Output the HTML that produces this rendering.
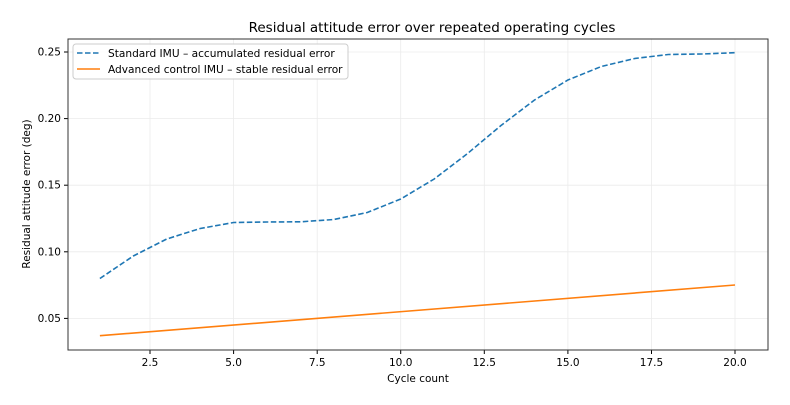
<!DOCTYPE html>
<html><head><meta charset="utf-8"><style>
html,body{margin:0;padding:0;background:#fff;}
svg{display:block;font-family:"DejaVu Sans","Liberation Sans",sans-serif;}
</style></head><body>
<svg width="790" height="405" viewBox="0 0 790 405" xmlns="http://www.w3.org/2000/svg">
<rect width="790" height="405" fill="#fff"/>
<text x="432" y="32" font-size="13.5" text-anchor="middle" fill="#000">Residual attitude error over repeated operating cycles</text>
<g stroke="#ebebeb" stroke-width="0.8">
<line x1="150" y1="39" x2="150" y2="350"/><line x1="233.6" y1="39" x2="233.6" y2="350"/>
<line x1="317.2" y1="39" x2="317.2" y2="350"/><line x1="400.7" y1="39" x2="400.7" y2="350"/>
<line x1="484.3" y1="39" x2="484.3" y2="350"/><line x1="567.9" y1="39" x2="567.9" y2="350"/>
<line x1="651.5" y1="39" x2="651.5" y2="350"/><line x1="735" y1="39" x2="735" y2="350"/>
<line x1="68" y1="52" x2="768" y2="52"/><line x1="68" y1="118.6" x2="768" y2="118.6"/>
<line x1="68" y1="185.2" x2="768" y2="185.2"/><line x1="68" y1="251.8" x2="768" y2="251.8"/>
<line x1="68" y1="318.4" x2="768" y2="318.4"/>
</g>
<g stroke="#000" stroke-width="1">
<line x1="150" y1="350" x2="150" y2="354"/><line x1="233.6" y1="350" x2="233.6" y2="354"/>
<line x1="317.2" y1="350" x2="317.2" y2="354"/><line x1="400.7" y1="350" x2="400.7" y2="354"/>
<line x1="484.3" y1="350" x2="484.3" y2="354"/><line x1="567.9" y1="350" x2="567.9" y2="354"/>
<line x1="651.5" y1="350" x2="651.5" y2="354"/><line x1="735" y1="350" x2="735" y2="354"/>
<line x1="64" y1="52" x2="68" y2="52"/><line x1="64" y1="118.6" x2="68" y2="118.6"/>
<line x1="64" y1="185.2" x2="68" y2="185.2"/><line x1="64" y1="251.8" x2="68" y2="251.8"/>
<line x1="64" y1="318.4" x2="68" y2="318.4"/>
</g>
<g font-size="10.5" fill="#000" text-anchor="middle">
<text x="150" y="366">2.5</text><text x="233.6" y="366">5.0</text><text x="317.2" y="366">7.5</text>
<text x="400.7" y="366">10.0</text><text x="484.3" y="366">12.5</text><text x="567.9" y="366">15.0</text>
<text x="651.5" y="366">17.5</text><text x="735" y="366">20.0</text>
</g>
<g font-size="10.5" fill="#000" text-anchor="end">
<text x="61" y="55.5">0.25</text><text x="61" y="122">0.20</text><text x="61" y="188.7">0.15</text>
<text x="61" y="255.3">0.10</text><text x="61" y="322">0.05</text>
</g>
<text x="418" y="382" font-size="10.5" text-anchor="middle">Cycle count</text>
<text transform="translate(30,194) rotate(-90)" font-size="10.5" text-anchor="middle">Residual attitude error (deg)</text>
<polyline fill="none" stroke="#1f77b4" stroke-width="1.6" stroke-dasharray="5.5,2.5"
points="99.9,278.5 133.3,256 166.7,239 200.2,228.5 233.6,222.5 267,222 300.5,221.8 333.9,219.5 367.3,212.5 400.7,199 434.2,179 467.6,153.5 501,125.5 534.5,100 567.9,80 601.3,66.5 634.7,58.5 668.2,54.5 701.6,54 735,52.7"/>
<line x1="99.9" y1="335.7" x2="735" y2="285" stroke="#ff7f0e" stroke-width="1.6"/>
<rect x="68" y="39" width="700" height="311" fill="none" stroke="#333" stroke-width="1"/>
<rect x="73" y="44" width="275" height="35" rx="3" fill="#fff" fill-opacity="0.9" stroke="#ccc" stroke-width="1"/>
<line x1="77" y1="53" x2="100" y2="53" stroke="#1f77b4" stroke-width="1.6" stroke-dasharray="5.5,2.5"/>
<line x1="77" y1="69" x2="100" y2="69" stroke="#ff7f0e" stroke-width="1.6"/>
<text x="108" y="57" font-size="10.6">Standard IMU – accumulated residual error</text>
<text x="108" y="73" font-size="10.6">Advanced control IMU – stable residual error</text>
</svg>
</body></html>
